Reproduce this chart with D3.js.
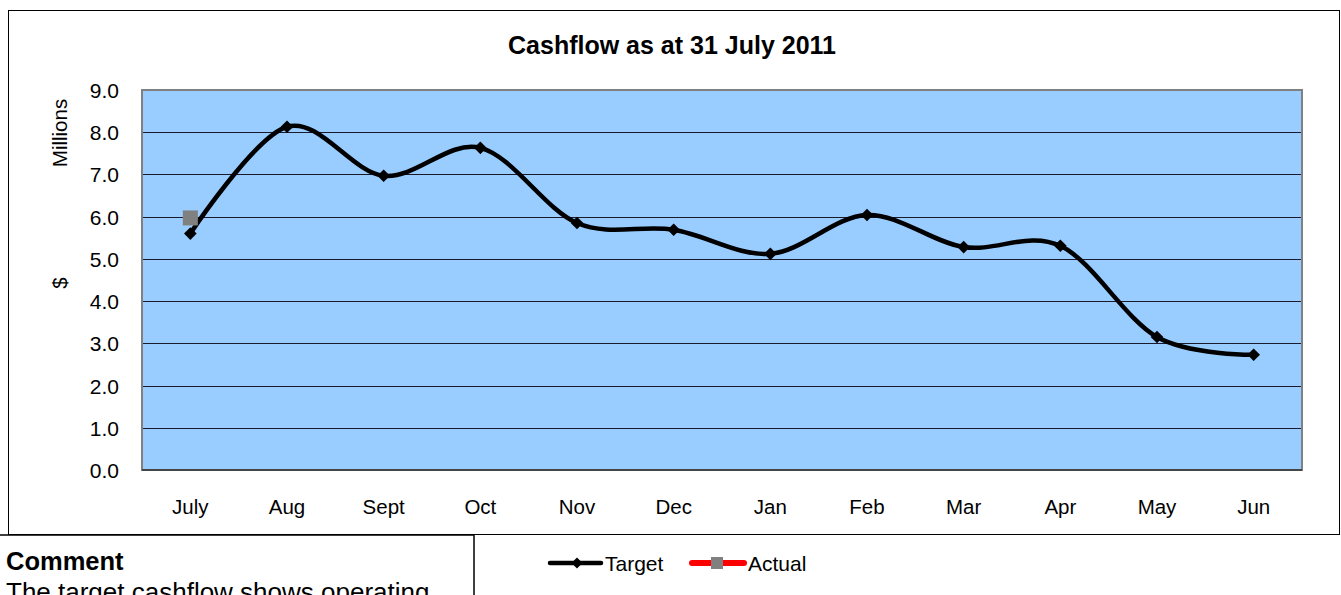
<!DOCTYPE html>
<html>
<head>
<meta charset="utf-8">
<script src="https://cdn.jsdelivr.net/npm/d3@7"></script>
<style>
  body { margin: 0; background: #fff; overflow: hidden; }
  svg { font-family: "Liberation Sans", Arial, sans-serif; display: block; }
</style>
</head>
<body>
<div id="chart"></div>
<script>
// chart data
const months = ["July", "Aug", "Sept", "Oct", "Nov", "Dec", "Jan", "Feb", "Mar", "Apr", "May", "Jun"];
const target = [5.6, 8.13, 6.97, 7.63, 5.85, 5.69, 5.12, 6.04, 5.28, 5.31, 3.15, 2.73];
const actual = [5.97];
const yTicks = [0, 1, 2, 3, 4, 5, 6, 7, 8, 9];

const WIDTH = 1341, HEIGHT = 595;
const plot = { left: 142, top: 90, right: 1302, bottom: 470 };

const svg = d3.select("#chart").append("svg")
    .attr("width", WIDTH)
    .attr("height", HEIGHT);

// outer chart frame
svg.append("rect")
    .attr("x", 8.5).attr("y", 10.5)
    .attr("width", 1331).attr("height", 524)
    .attr("fill", "#fff")
    .attr("stroke", "#000")
    .attr("stroke-width", 1);

svg.append("text")
    .attr("x", 672).attr("y", 54)
    .attr("text-anchor", "middle")
    .attr("font-size", 25)
    .attr("font-weight", "bold")
    .text("Cashflow as at 31 July 2011");

const x = d3.scaleBand().domain(months).range([plot.left, plot.right]);
const y = d3.scaleLinear().domain([0, 9]).range([plot.bottom, plot.top]);

// plot area
svg.append("rect")
    .attr("x", plot.left).attr("y", plot.top)
    .attr("width", plot.right - plot.left).attr("height", plot.bottom - plot.top)
    .attr("fill", "#99ccff");

// gridlines
svg.append("g")
    .selectAll("line")
    .data(yTicks.slice(1, -1))
    .join("line")
    .attr("x1", plot.left).attr("x2", plot.right)
    .attr("y1", d => Math.round(y(d)) + 0.5).attr("y2", d => Math.round(y(d)) + 0.5)
    .attr("stroke", "#1a1a2e")
    .attr("stroke-width", 1.2);

// plot border
svg.append("rect")
    .attr("x", plot.left).attr("y", plot.top)
    .attr("width", plot.right - plot.left).attr("height", plot.bottom - plot.top)
    .attr("fill", "none")
    .attr("stroke", "#808080")
    .attr("stroke-width", 2);
svg.append("line")
    .attr("x1", plot.left).attr("x2", plot.right)
    .attr("y1", plot.bottom).attr("y2", plot.bottom)
    .attr("stroke", "#333").attr("stroke-width", 1.5);

// y axis labels
svg.append("g")
    .selectAll("text")
    .data(yTicks)
    .join("text")
    .attr("x", 119)
    .attr("y", d => y(d) + 8)
    .attr("text-anchor", "end")
    .attr("font-size", 21)
    .text(d => d.toFixed(1));

// x axis labels
svg.append("g")
    .selectAll("text")
    .data(months)
    .join("text")
    .attr("x", d => x(d) + x.bandwidth() / 2)
    .attr("y", 514)
    .attr("text-anchor", "middle")
    .attr("font-size", 20.5)
    .text(d => d);

svg.append("text")
    .attr("transform", "translate(67,133) rotate(-90)")
    .attr("text-anchor", "middle")
    .attr("font-size", 20.5)
    .text("Millions");
svg.append("text")
    .attr("transform", "translate(67,283) rotate(-90)")
    .attr("text-anchor", "middle")
    .attr("font-size", 20.5)
    .text("$");

// target line
const cx = (d, i) => x(months[i]) + x.bandwidth() / 2;
const line = d3.line()
    .x(cx)
    .y(d => y(d))
    .curve(d3.curveCardinal.tension(0));

svg.append("path")
    .datum(target)
    .attr("d", line)
    .attr("fill", "none")
    .attr("stroke", "#000")
    .attr("stroke-width", 4.5);

svg.append("g")
    .selectAll("path")
    .data(target)
    .join("path")
    .attr("d", d3.symbol().type(d3.symbolSquare).size(80))
    .attr("transform", (d, i) => `translate(${cx(d, i)},${y(d)}) rotate(45)`)
    .attr("fill", "#000");

// actual
svg.append("g")
    .selectAll("rect")
    .data(actual)
    .join("rect")
    .attr("x", (d, i) => cx(d, i) - 7.5)
    .attr("y", d => y(d) - 7.5)
    .attr("width", 15).attr("height", 15)
    .attr("fill", "#808080");

// legend
const lg = svg.append("g");
lg.append("line").attr("x1", 550).attr("x2", 601).attr("y1", 563).attr("y2", 563)
    .attr("stroke", "#000").attr("stroke-width", 4.5).attr("stroke-linecap", "round");
lg.append("path").attr("d", d3.symbol().type(d3.symbolSquare).size(60))
    .attr("transform", "translate(577,563) rotate(45)").attr("fill", "#000");
lg.append("text").attr("x", 605).attr("y", 571).attr("font-size", 21).text("Target");
lg.append("line").attr("x1", 692).attr("x2", 744).attr("y1", 563).attr("y2", 563)
    .attr("stroke", "#ff0000").attr("stroke-width", 6).attr("stroke-linecap", "round");
lg.append("rect").attr("x", 711).attr("y", 557).attr("width", 12).attr("height", 12).attr("fill", "#808080");
lg.append("text").attr("x", 748).attr("y", 571).attr("font-size", 21).text("Actual");

// comment box
const cb = svg.append("g");
cb.append("rect")
    .attr("x", -2).attr("y", 535)
    .attr("width", 476).attr("height", 80)
    .attr("fill", "#fff").attr("stroke", "#000").attr("stroke-width", 1.5);
cb.append("text").attr("x", 6).attr("y", 570).attr("font-size", 25.5).attr("font-weight", "bold").text("Comment");
cb.append("text").attr("x", 6).attr("y", 601).attr("font-size", 26).text("The target cashflow shows operating");
</script>
</body>
</html>
